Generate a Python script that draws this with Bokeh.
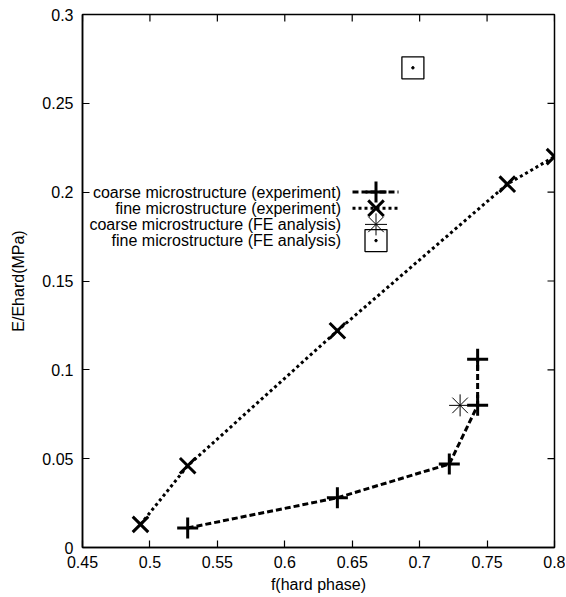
from bokeh.plotting import figure
from bokeh.models import Range1d, FixedTicker
from bokeh.embed import file_html
from bokeh.resources import INLINE
from bokeh.core.properties import value

# Relative stiffness E/Ehard against the volume fraction of hard phase
coarse_exp_f = [0.528, 0.639, 0.722, 0.743, 0.743]
coarse_exp_e = [0.011, 0.028, 0.047, 0.080, 0.106]

fine_exp_f = [0.493, 0.528, 0.639, 0.765, 0.800]
fine_exp_e = [0.013, 0.046, 0.122, 0.2045, 0.220]

coarse_fe_f = [0.730]
coarse_fe_e = [0.080]

fine_fe_f = [0.695]
fine_fe_e = [0.270]

series_names = [
    "coarse microstructure (experiment)",
    "fine microstructure (experiment)",
    "coarse microstructure (FE analysis)",
    "fine microstructure (FE analysis)",
]

x_ticks = [0.45, 0.5, 0.55, 0.6, 0.65, 0.7, 0.75, 0.8]
x_tick_labels = ["0.45", "0.5", "0.55", "0.6", "0.65", "0.7", "0.75", "0.8"]
y_ticks = [0, 0.05, 0.1, 0.15, 0.2, 0.25, 0.3]
y_tick_labels = ["0", "0.05", "0.1", "0.15", "0.2", "0.25", "0.3"]

FONT = "Liberation Sans"
FONT_SIZE = "16px"
FRAME_W, FRAME_H = 472, 533
TICK_LEN = 7
DASHED = "6 3"
DOTTED = "3 3"
CROSS_SIZE, X_SIZE, STAR_SIZE, BOX_SIZE = 21, 22, 22, 22

p = figure(
    frame_width=FRAME_W, frame_height=FRAME_H,
    x_range=Range1d(0.45, 0.8), y_range=Range1d(0, 0.3),
    min_border_left=82, min_border_right=11,
    min_border_top=14, min_border_bottom=50,
    output_backend="svg", toolbar_location=None,
    background_fill_color="white", border_fill_color="white",
)
p.xgrid.visible = False
p.ygrid.visible = False
p.outline_line_color = "black"
p.outline_line_width = 1.5
p.outline_line_alpha = 1.0

# pixel-space ranges inside the frame (key y grows downward from the top)
p.extra_x_ranges = {"key": Range1d(0, FRAME_W)}
p.extra_y_ranges = {"key": Range1d(FRAME_H, 0)}

for ax, ticks, labels in ((p.xaxis[0], x_ticks, x_tick_labels),
                          (p.yaxis[0], y_ticks, y_tick_labels)):
    ax.ticker = FixedTicker(ticks=ticks)
    ax.major_label_overrides = dict(zip(ticks, labels))
    ax.major_tick_in = TICK_LEN
    ax.major_tick_out = 0
    ax.major_tick_line_width = 1.2
    ax.major_tick_line_color = "black"
    ax.minor_tick_line_color = None
    ax.axis_line_color = "black"
    ax.axis_line_width = 1.5
    ax.major_label_text_font = FONT
    ax.major_label_text_font_size = FONT_SIZE
    ax.major_label_text_color = "black"
    ax.axis_label_text_font = FONT
    ax.axis_label_text_font_size = FONT_SIZE
    ax.axis_label_text_font_style = "normal"
    ax.axis_label_text_color = "black"

p.xaxis.axis_label = "f(hard phase)"
p.yaxis.axis_label = "E/Ehard(MPa)"
p.xaxis[0].major_label_standoff = 8
p.yaxis[0].major_label_standoff = 9
p.xaxis[0].axis_label_standoff = 5
p.yaxis[0].axis_label_standoff = 12

# mirrored inward ticks along the top and right borders
p.segment(x0=x_ticks, x1=x_ticks, y0=[0] * len(x_ticks),
          y1=[TICK_LEN] * len(x_ticks), y_range_name="key",
          line_color="black", line_width=1.2)
p.segment(x0=[FRAME_W - TICK_LEN] * len(y_ticks), x1=[FRAME_W] * len(y_ticks),
          y0=y_ticks, y1=y_ticks, x_range_name="key",
          line_color="black", line_width=1.2)

# data series
p.line(coarse_exp_f, coarse_exp_e, line_color="black", line_width=3,
       line_dash=DASHED)
p.line(fine_exp_f, fine_exp_e, line_color="black", line_width=3,
       line_dash=DOTTED)
p.scatter(coarse_exp_f, coarse_exp_e, marker="cross", size=CROSS_SIZE,
          line_color="black", line_width=3)
p.scatter(fine_exp_f, fine_exp_e, marker="x", size=X_SIZE,
          line_color="black", line_width=3)
p.scatter(coarse_fe_f, coarse_fe_e, marker="asterisk", size=STAR_SIZE,
          line_color="black", line_width=1)
p.scatter(fine_fe_f, fine_fe_e, marker="square", size=BOX_SIZE,
          line_color="black", line_width=1.3, fill_color=None)
p.scatter(fine_fe_f, fine_fe_e, marker="circle", size=2.5,
          line_color="black", fill_color="black")

# key: labels on the left, samples on the right
key_y = [177.5, 193.7, 209.9, 226.1]
key_text_x = 258.5
key_x0, key_x1, key_mx = 270, 316, 293.5

p.text(x=[key_text_x] * 4, y=key_y, text=series_names,
       x_range_name="key", y_range_name="key",
       text_align="right", text_baseline="middle",
       text_font=value(FONT), text_font_size=FONT_SIZE, text_color="black")

p.segment(x0=[key_x0], y0=[key_y[0]], x1=[key_x1], y1=[key_y[0]],
          x_range_name="key", y_range_name="key",
          line_color="black", line_width=3, line_dash=DASHED)
p.segment(x0=[key_x0], y0=[key_y[1]], x1=[key_x1], y1=[key_y[1]],
          x_range_name="key", y_range_name="key",
          line_color="black", line_width=3, line_dash=DOTTED)
p.scatter([key_mx], [key_y[0]], marker="cross", size=CROSS_SIZE,
          x_range_name="key", y_range_name="key",
          line_color="black", line_width=3)
p.scatter([key_mx], [key_y[1]], marker="x", size=X_SIZE,
          x_range_name="key", y_range_name="key",
          line_color="black", line_width=3)
p.scatter([key_mx], [key_y[2]], marker="asterisk", size=STAR_SIZE,
          x_range_name="key", y_range_name="key",
          line_color="black", line_width=1)
p.scatter([key_mx], [key_y[3]], marker="square", size=BOX_SIZE,
          x_range_name="key", y_range_name="key",
          line_color="black", line_width=1.3, fill_color=None)
p.scatter([key_mx], [key_y[3]], marker="circle", size=2.5,
          x_range_name="key", y_range_name="key",
          line_color="black", fill_color="black")

open("out.html", "w").write(file_html(p, INLINE))
